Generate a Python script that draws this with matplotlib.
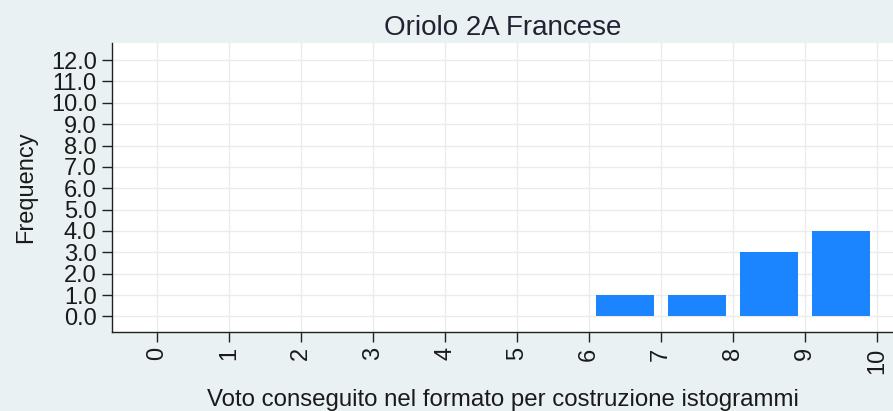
import matplotlib
matplotlib.use("Agg")
import matplotlib.pyplot as plt
import numpy as np

plt.rcParams['font.family'] = ['Liberation Sans', 'DejaVu Sans']

# Histogram of grades: bin left edges and counts
bin_left = [6, 7, 8, 9]
counts = [1, 1, 3, 4]
x_ticks = list(range(0, 11))
y_ticks = [float(v) for v in range(0, 13)]

title = "Oriolo 2A Francese"
x_label = "Voto conseguito nel formato per costruzione istogrammi"
y_label = "Frequency"

bg = "#EAF1F3"
bar_color = "#1A85FF"
text_color = "#1a1a1a"

fig = plt.figure(figsize=(8.93, 4.11), dpi=100, facecolor=bg)
ax = fig.add_axes([0.1254, 0.1922, 0.8746, 0.7032])
ax.set_facecolor("white")

ax.bar([b + 0.5 for b in bin_left], counts, width=0.8, color=bar_color,
       edgecolor="none", zorder=3)

ax.set_xlim(-0.625, 10.22)
ax.set_ylim(-0.73, 12.8)
ax.set_xticks(x_ticks)
ax.set_xticklabels([str(v) for v in x_ticks], rotation=90, fontsize=17)
ax.set_yticks(y_ticks)
ax.set_yticklabels([f"{v:.1f}" for v in y_ticks], fontsize=17)

ax.grid(True, color="#EBEBEB", linewidth=1.0, zorder=0)
for side in ("top", "right"):
    ax.spines[side].set_visible(False)
for side in ("left", "bottom"):
    ax.spines[side].set_color("#222222")
    ax.spines[side].set_linewidth(1.0)
ax.tick_params(axis="both", direction="out", length=7, width=1.0,
               color="#222222", labelcolor=text_color, pad=4)

ax.set_title(title, fontsize=20, color="#222233", pad=6)
ax.set_xlabel(x_label, fontsize=17.3, color=text_color, labelpad=11)
ax.set_ylabel(y_label, fontsize=17, color=text_color, labelpad=10)

fig.savefig("out.png", dpi=100, facecolor=bg)
